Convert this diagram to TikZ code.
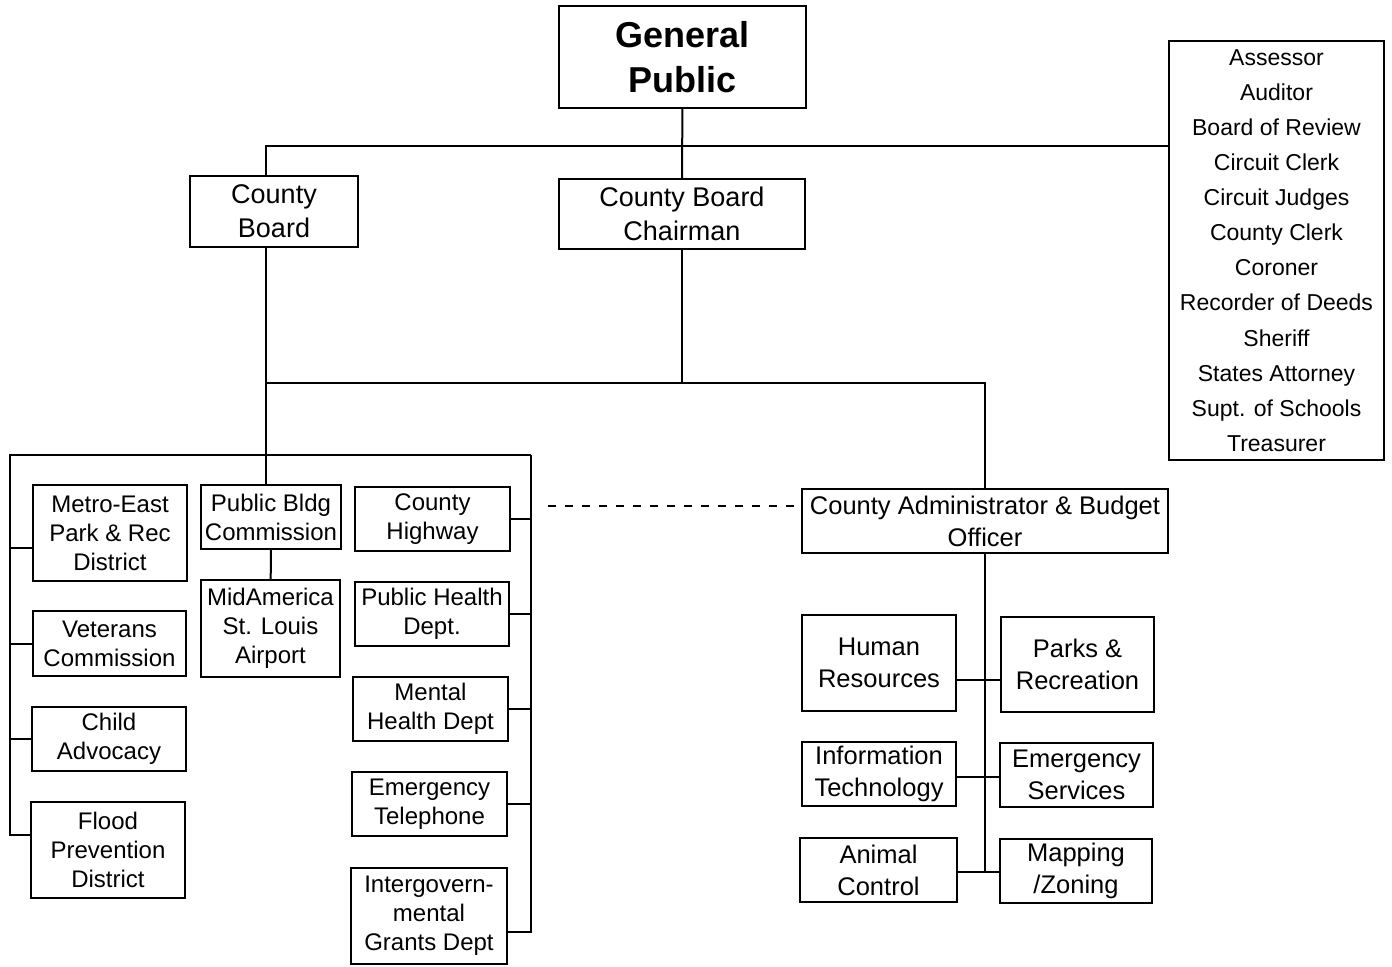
\documentclass[tikz,border=0pt]{standalone}
\usepackage{fontspec}
\setmainfont{Liberation Sans}

\tikzset{
  box/.style={draw, align=center, inner sep=0pt},
  sz/.style 2 args={minimum width=#1, minimum height=#2},
  head/.style={box, font=\fontsize{18}{22.5}\selectfont\bfseries},
  top/.style={box, font=\fontsize{13.5}{17}\selectfont},
  admin/.style={box, font=\fontsize{12.75}{16}\selectfont},
  dept/.style={box, font=\fontsize{12}{14.5}\selectfont},
  elect/.style={box, font=\fontsize{11.5}{17.55}\selectfont},
}

\begin{document}
\begin{tikzpicture}[x=0.5pt, y=-0.5pt, line width=1pt]
\useasboundingbox (0,0) rectangle (1392,966);

% top level
\node[head, sz={123.5pt}{51pt}] (gp) at (682.5,57) {General\\Public};
\node[top, sz={84pt}{35.5pt}] (cb) at (274,211.5) {County\\Board};
\node[top, sz={123pt}{35pt}] (cbc) at (682,214) {County Board\\Chairman};
\node[elect, sz={107.5pt}{209.5pt}] (off) at (1276.5,250.5)
  {Assessor\\Auditor\\Board of Review\\Circuit Clerk\\Circuit Judges\\County Clerk\\Coroner\\Recorder of Deeds\\Sheriff\\States Attorney\\Supt. of Schools\\Treasurer};

% county board departments
\node[dept, sz={77pt}{48pt}] (metro) at (110,533) {Metro-East\\Park \& Rec\\District};
\node[dept, sz={76.5pt}{32.5pt}] (vet) at (109.5,643.5) {Veterans\\Commission};
\node[dept, sz={77pt}{32pt}] (child) at (109,739) {Child\\Advocacy};
\node[dept, sz={77pt}{48pt}] (flood) at (108,850) {Flood\\Prevention\\District};

\node[dept, sz={70pt}{32pt}] (pbc) at (271,517) {Public Bldg\\Commission};
\node[dept, sz={69.5pt}{48.5pt}] (msl) at (270.5,628.5) {MidAmerica\\St. Louis\\Airport};

\node[dept, sz={77.5pt}{32pt}] (hwy) at (432.5,519) {County\\Highway};
\node[dept, sz={77pt}{32pt}] (ph) at (432,614) {Public Health\\Dept.};
\node[dept, sz={77.5pt}{32pt}] (mh) at (430.5,709) {Mental\\Health Dept};
\node[dept, sz={77.5pt}{32pt}] (et) at (429.5,804) {Emergency\\Telephone};
\node[dept, sz={78pt}{48pt}] (igd) at (429,916) {Intergovern-\\mental\\Grants Dept};

% administrator departments
\node[admin, sz={183pt}{32pt}] (adm) at (985,521) {County Administrator \& Budget\\Officer};
\node[admin, sz={77pt}{48pt}] (hr) at (879,663) {Human\\Resources};
\node[admin, sz={76.5pt}{47.5pt}] (pr) at (1077.5,664.5) {Parks \&\\Recreation};
\node[admin, sz={77pt}{32pt}] (it) at (879,774) {Information\\Technology};
\node[admin, sz={76.5pt}{32pt}] (es) at (1076.5,775) {Emergency\\Services};
\node[admin, sz={78.5pt}{32pt}] (ac) at (878.5,870) {Animal\\Control};
\node[admin, sz={76pt}{32pt}] (mz) at (1076,871) {Mapping\\/Zoning};

\coordinate (bus) at (682,146);
\coordinate (trunk) at (266,383);
\coordinate (lg) at (266,455);
\coordinate (lx) at (10,455);
\coordinate (rx) at (531,455);
\coordinate (dash) at (548,506);
\coordinate (mw) at ([yshift=-7.5pt]metro.west);
\coordinate (fw) at ([yshift=7.5pt]flood.west);
\coordinate (ie) at ([yshift=-8pt]igd.east);
\coordinate (he) at ([yshift=-8.5pt]hr.east);
\coordinate (te) at ([yshift=-1.5pt]it.east);
\coordinate (ae) at ([yshift=-1pt]ac.east);

% connectors
\draw (gp) -- (cbc);
\draw (trunk |- cb.north) |- (bus) -- (off.west |- bus);
\draw (trunk |- cb.south) -- (trunk) -- (adm.north |- trunk) -- (adm.north);
\draw (cbc) -- (cbc.south |- trunk);
\draw (trunk) -- (lg) -- (lg |- pbc.north);
\draw (pbc) -- (msl);

\draw (rx) -- (lx) |- (fw);
\draw (lx |- mw) -- (mw);
\draw (lx |- vet.west) -- (vet.west);
\draw (lx |- child.west) -- (child.west);

\draw (rx) |- (ie);
\draw (hwy.east) -- (rx |- hwy.east);
\draw (ph.east) -- (rx |- ph.east);
\draw (mh.east) -- (rx |- mh.east);
\draw (et.east) -- (rx |- et.east);

\draw[dash pattern=on 4pt off 4.5pt] (dash) -- (dash -| adm.west);

\draw (adm) -- (adm.south |- ae);
\draw (he) -- (he -| pr.west);
\draw (te) -- (te -| es.west);
\draw (ae) -- (ae -| mz.west);

\end{tikzpicture}
\end{document}
